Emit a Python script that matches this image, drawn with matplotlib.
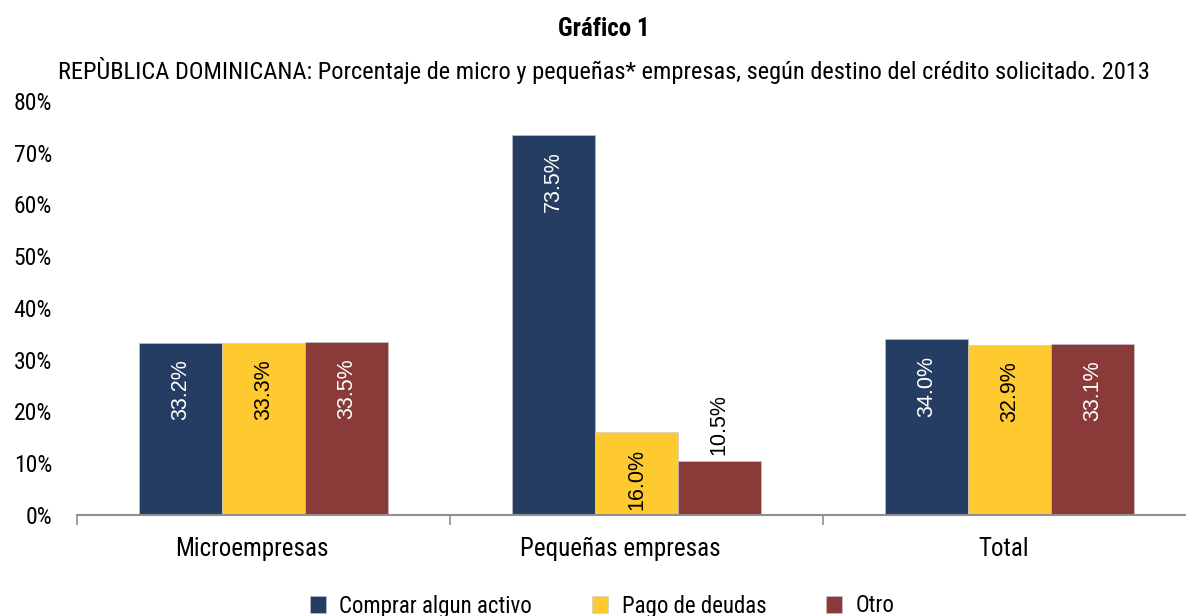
import matplotlib
matplotlib.use("Agg")
import matplotlib.pyplot as plt
from matplotlib import font_manager as fm
from matplotlib.transforms import ScaledTranslation
import numpy as np

names = {f.name for f in fm.fontManager.ttflist}
cond = "Liberation Sans Narrow" if "Liberation Sans Narrow" in names else "Roboto Condensed" if "Roboto Condensed" in names else "Liberation Sans"
plt.rcParams['font.family'] = [cond, 'DejaVu Sans']

categories = ["Microempresas", "Pequeñas empresas", "Total"]
series_names = ["Comprar algun activo", "Pago de deudas", "Otro"]
comprar = [33.2, 73.5, 34.0]
pago = [33.3, 16.0, 32.9]
otro = [33.5, 10.5, 33.1]
colors = ["#253D63", "#FFC930", "#8B3A3A"]
label_colors = ["white", "black", "white"]
yticks = [0, 10, 20, 30, 40, 50, 60, 70, 80]

W, H = 1186, 616
fig = plt.figure(figsize=(W/100, H/100), dpi=100)
x0, x1 = 77, 1196
y0, y1 = 515, 101
ax = fig.add_axes([x0/W, 1 - y0/H, (x1-x0)/W, (y0-y1)/H])

x = np.arange(len(categories))
bw = 0.222
for i, (vals, c, lc) in enumerate(zip([comprar, pago, otro], colors, label_colors)):
    pos = x + (i - 1) * bw
    ax.bar(pos, vals, width=bw, color=c, label=series_names[i], edgecolor="#c8c8d0", linewidth=0.4)
    for xp, v in zip(pos, vals):
        if v < 12:
            ax.text(xp, v + 1.0, f"{v:.1f}%", rotation=90, ha="center", va="bottom",
                    color="black", fontsize=15.5, family=["Liberation Sans", "DejaVu Sans"])
        else:
            ax.text(xp, v - 3.2, f"{v:.1f}%", rotation=90, ha="center", va="top",
                    color=lc, fontsize=15.5, family=["Liberation Sans", "DejaVu Sans"])

ax.set_xlim(-0.5, 2.5)
ax.set_ylim(0, 80)
ax.set_yticks(yticks)
ax.set_yticklabels([f"{t}%" for t in yticks], fontsize=17)
ax.tick_params(axis="y", length=0, pad=18)
ax.set_xticks([0, 1, 2])
ax.set_xticklabels([])
ax.tick_params(axis="x", which="major", length=0)
base = ax.get_xaxis_transform()
for xi, cat, dx in zip(x, categories, [-12, -16, -6]):
    ax.text(xi, 0, cat, fontsize=18, ha="center", va="top",
            transform=base + ScaledTranslation(dx/100, -22/100, fig.dpi_scale_trans))
ax.set_xticks([-0.5, 0.5, 1.5, 2.5], minor=True)
ax.tick_params(axis="x", which="minor", length=7, color="#909090", width=1.2)
for s in ["top", "right", "left"]:
    ax.spines[s].set_visible(False)
ax.spines["bottom"].set_color("#909090")
ax.spines["bottom"].set_linewidth(1.5)

fig.text(604/W, 1 - 29/H, "Gráfico 1", ha="center", va="center", fontsize=18, fontweight="bold")
fig.text(604/W, 1 - 70/H, "REPÙBLICA DOMINICANA: Porcentaje de micro y pequeñas* empresas, según destino del crédito solicitado. 2013",
         ha="center", va="center", fontsize=17.6)

leg = fig.legend(loc="center", bbox_to_anchor=(602/W, 1 - 606/H), ncol=3, frameon=False,
                 fontsize=16.5, handlelength=0.7, handleheight=0.7, columnspacing=2.6, handletextpad=0.6)

fig.savefig("out.png", dpi=100)
